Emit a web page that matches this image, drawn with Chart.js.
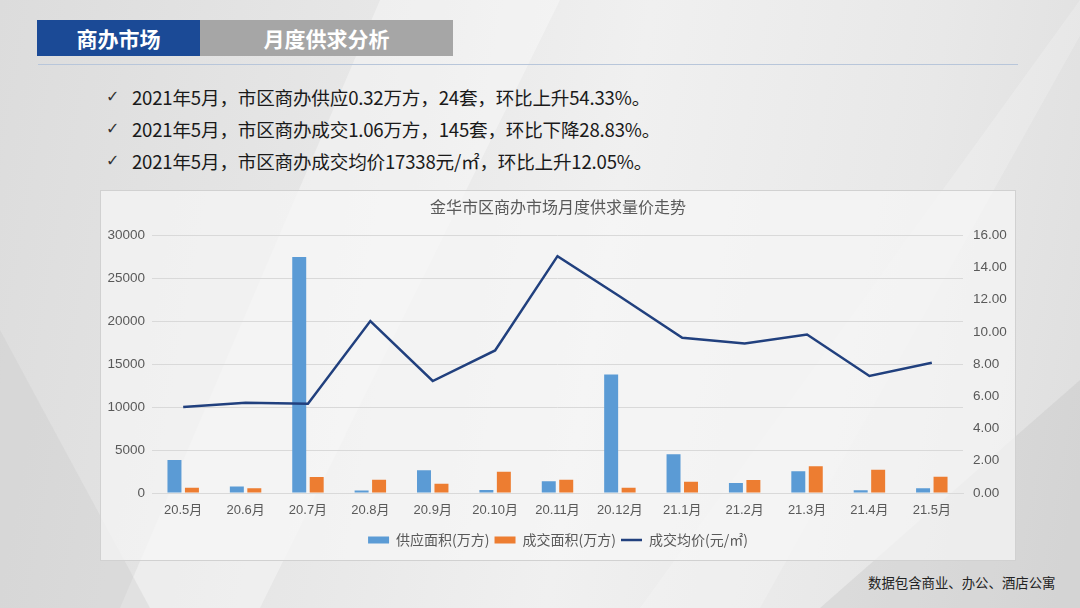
<!DOCTYPE html>
<html>
<head>
<meta charset="utf-8">
<script src="https://cdn.jsdelivr.net/npm/chart.js@4/dist/chart.umd.min.js"></script>
<style>
  html, body { margin: 0; padding: 0; }
  body {
    width: 1080px; height: 608px; position: relative; overflow: hidden;
    background: linear-gradient(100deg, #dcdcdc 0%, #e8e8e8 35%, #f0f0f0 55%, #e8e8e8 80%, #dedede 100%);
    font-family: "Noto Sans CJK SC", "Noto Sans", sans-serif;
  }
  .shape { position: absolute; left: 0; top: 0; width: 1080px; height: 608px; }
  .s1 { background: rgba(255,255,255,0.35); clip-path: polygon(380px 0, 560px 0, 260px 608px, 120px 608px); }
  .s2 { background: rgba(200,200,200,0.3); clip-path: polygon(0 330px, 150px 608px, 0 608px); }
  .s3 { background: rgba(190,190,190,0.3); clip-path: polygon(1080px 380px, 1080px 608px, 820px 608px); }
  .s4 { background: rgba(255,255,255,0.2); clip-path: polygon(1100px 0, 1080px 0, 640px 608px, 760px 608px); }
  .tab { position: absolute; top: 20px; height: 36px; color: #fff; font-weight: bold;
         font-size: 21px; line-height: 36px; text-align: center; }
  .tab1 { left: 37px; width: 163px; background: #1b4a96; }
  .tab2 { left: 200px; width: 253px; background: #a6a6a6; }
  .rule { position: absolute; left: 38px; top: 64px; width: 980px; height: 1px; background: #b8c6da; }
  .bullets { position: absolute; left: 106px; top: 81px; font-size: 18.6px; letter-spacing: -0.2px; color: #1a1a1a; }
  .bullets div { height: 32px; line-height: 32px; white-space: nowrap; }
  .bullets span { display: inline-block; width: 26px; font-family: "DejaVu Sans"; font-size: 16px;
                  font-weight: bold; line-height: 32px; vertical-align: top; color: #333; letter-spacing: 0; }
  .box { position: absolute; left: 100px; top: 190px; width: 916px; height: 371px;
         background: rgba(246,246,246,0.7); border: 1px solid rgba(205,205,205,0.9); box-sizing: border-box; }
  #chart { position: absolute; left: 100px; top: 190px; }
  .note { position: absolute; left: 868px; top: 572px; font-size: 13.4px; color: #222; }
</style>
</head>
<body>
<div class="shape s1"></div>
<div class="shape s2"></div>
<div class="shape s3"></div>
<div class="shape s4"></div>
<div class="tab tab1">商办市场</div>
<div class="tab tab2">月度供求分析</div>
<div class="rule"></div>
<div class="bullets">
  <div><span>✓</span>2021年5月，市区商办供应0.32万方，24套，环比上升54.33%。</div>
  <div><span>✓</span>2021年5月，市区商办成交1.06万方，145套，环比下降28.83%。</div>
  <div><span>✓</span>2021年5月，市区商办成交均价17338元/㎡，环比上升12.05%。</div>
</div>
<div class="box"></div>
<canvas id="chart" width="916" height="371"></canvas>
<div class="note">数据包含商业、办公、酒店公寓</div>
<script>
const months = ['20.5月', '20.6月', '20.7月', '20.8月', '20.9月', '20.10月', '20.11月', '20.12月', '21.1月', '21.2月', '21.3月', '21.4月', '21.5月'];
const supplyArea = [3850, 750, 27450, 300, 2640, 350, 1360, 13800, 4500, 1160, 2520, 310, 550];
const dealArea = [620, 550, 1860, 1550, 1090, 2480, 1550, 620, 1320, 1510, 3100, 2710, 1900];
const avgPrice = [5.33, 5.60, 5.54, 10.67, 6.95, 8.85, 14.70, 12.20, 9.63, 9.28, 9.84, 7.26, 8.08];
const legendStyles = ['rect', 'rect', 'line'];

const tickFont = { family: '"Liberation Sans", "Noto Sans CJK SC", sans-serif', size: 13.5 };
const xFont = { family: '"Liberation Sans", "Noto Sans CJK SC", sans-serif', size: 13 };
const cjkFont = { family: '"Noto Sans CJK SC", sans-serif', size: 14 };

const ctx = document.getElementById('chart').getContext('2d');
new Chart(ctx, {
    data: {
        labels: months,
        datasets: [{
            type: 'line',
            label: '成交均价(元/㎡)',
            data: avgPrice,
            yAxisID: 'y1',
            borderColor: '#21407e',
            backgroundColor: '#21407e',
            borderWidth: 2.5,
            pointRadius: 0,
            tension: 0,
            order: 0
        }, {
            type: 'bar',
            label: '供应面积(万方)',
            data: supplyArea,
            yAxisID: 'y',
            backgroundColor: '#5b9bd5',
            categoryPercentage: 0.56,
            barPercentage: 0.8,
            order: 1
        }, {
            type: 'bar',
            label: '成交面积(万方)',
            data: dealArea,
            yAxisID: 'y',
            backgroundColor: '#ed7d31',
            categoryPercentage: 0.56,
            barPercentage: 0.8,
            order: 1
        }]
    },
    options: {
        responsive: false,
        animation: false,
        layout: { padding: { left: 0, right: 0, top: 0, bottom: 4 } },
        plugins: {
            title: {
                display: true,
                text: '金华市区商办市场月度供求量价走势',
                color: '#595959',
                font: { family: '"Noto Sans CJK SC", sans-serif', size: 16, weight: 'normal' },
                padding: { top: 7, bottom: 19 }
            },
            legend: {
                position: 'bottom',
                labels: {
                    color: '#595959',
                    font: cjkFont,
                    usePointStyle: true,
                    pointStyleWidth: 21,
                    boxHeight: 7,
                    padding: 5,
                    sort: (a, b) => [1, 2, 0].indexOf(a.datasetIndex) - [1, 2, 0].indexOf(b.datasetIndex),
                    generateLabels: chart => {
                        const items = Chart.defaults.plugins.legend.labels.generateLabels(chart);
                        items.forEach(it => {
                            it.pointStyle = legendStyles[[1, 2, 0].indexOf(it.datasetIndex)];
                            if (it.pointStyle === 'rect') it.lineWidth = 0;
                        });
                        return items;
                    }
                }
            },
            tooltip: { enabled: false }
        },
        scales: {
            x: {
                grid: { display: false, drawTicks: false },
                border: { display: true, color: '#d9d9d9' },
                ticks: { color: '#595959', font: xFont, padding: 10, maxRotation: 0, autoSkip: false },
                afterFit: scale => { scale.height = 35; }
            },
            y: {
                position: 'left',
                min: 0, max: 30000,
                ticks: { stepSize: 5000, color: '#595959', font: tickFont, padding: 7,
                         callback: v => String(v) },
                grid: { color: '#d9d9d9', drawTicks: false },
                border: { display: false },
                afterFit: scale => { scale.width = 52; }
            },
            y1: {
                position: 'right',
                min: 0, max: 16,
                ticks: { stepSize: 2, color: '#595959', font: tickFont, padding: 10,
                         callback: v => v.toFixed(2) },
                grid: { display: false, drawTicks: false },
                border: { display: false },
                afterFit: scale => { scale.width = 53; }
            }
        }
    }
});
</script>
</body>
</html>
